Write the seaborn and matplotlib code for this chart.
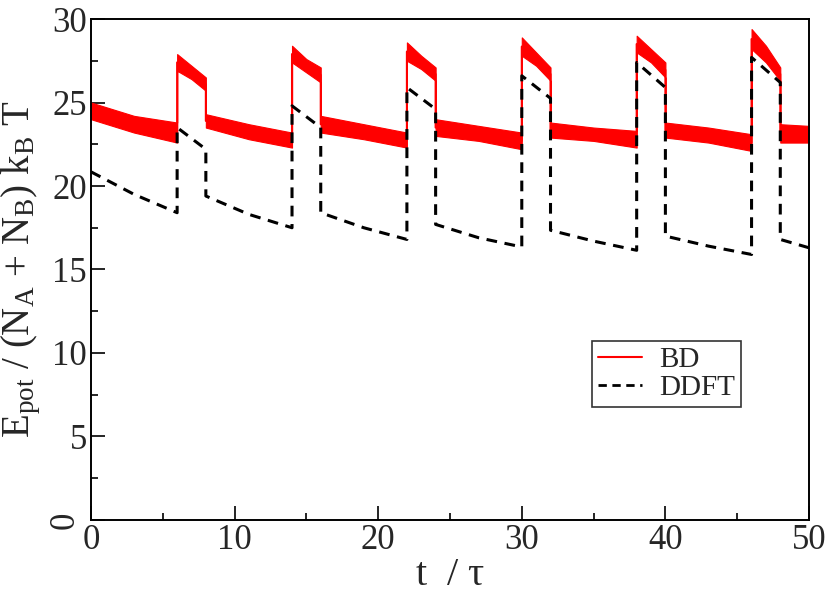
import numpy as np
import pandas as pd
import matplotlib
matplotlib.use("Agg")
import matplotlib.pyplot as plt
import matplotlib.transforms as mtransforms
import seaborn as sns
from matplotlib.lines import Line2D
from matplotlib.ticker import MultipleLocator

sns.set_style("white")
plt.rcParams['font.family'] = ['Liberation Serif', 'DejaVu Serif']
plt.rcParams['mathtext.fontset'] = 'custom'
plt.rcParams['mathtext.rm'] = 'Liberation Serif'
plt.rcParams['mathtext.it'] = 'Liberation Serif:italic'
plt.rcParams['mathtext.default'] = 'regular'

# BD (noisy band: lower / upper envelope)
bd_t = [0, 3, 6, 6, 7, 8, 8, 11, 14, 14, 15, 16, 16, 19, 22, 22, 23, 24, 24, 27,
        30, 30, 31, 32, 32, 35, 38, 38, 39, 40, 40, 43, 46, 46, 47, 48, 48, 50]
bd_lo = [24.0, 23.2, 22.6, 26.9, 26.4, 25.7, 23.5, 22.8, 22.3, 27.4, 26.8, 26.2, 23.2, 22.8,
         22.3, 27.5, 27.0, 26.3, 23.0, 22.7, 22.2, 27.8, 27.2, 26.3, 22.9, 22.7, 22.3,
         28.0, 27.4, 26.5, 22.9, 22.6, 22.1, 28.2, 27.4, 26.3, 22.6, 22.6]
bd_hi = [25.0, 24.2, 23.8, 27.9, 27.2, 26.5, 24.3, 23.7, 23.2, 28.4, 27.6, 27.1, 24.2, 23.7,
         23.2, 28.6, 27.8, 27.1, 24.0, 23.6, 23.2, 28.9, 28.0, 27.1, 23.8, 23.5, 23.3,
         29.0, 28.2, 27.4, 23.8, 23.5, 23.1, 29.4, 28.4, 27.1, 23.7, 23.6]

# DDFT
ddft_t = [0, 3, 6, 6, 8, 8, 11, 14, 14, 16, 16, 19, 22, 22, 24, 24, 27, 30, 30, 32, 32,
          35, 38, 38, 40, 40, 43, 46, 46, 48, 48, 50]
ddft_e = [20.85, 19.5, 18.4, 23.5, 22.2, 19.4, 18.3, 17.5, 24.8, 23.5, 18.4, 17.5, 16.8,
          25.9, 24.6, 17.7, 16.9, 16.35, 26.6, 25.25, 17.35, 16.7, 16.15, 27.4, 25.9, 17.0,
          16.4, 15.9, 27.7, 26.2, 16.8, 16.3]

bd = pd.DataFrame({'t': bd_t, 'lo': bd_lo, 'hi': bd_hi})
bd['mid'] = (bd['lo'] + bd['hi']) / 2
dd = pd.DataFrame({'t': ddft_t, 'e': ddft_e})

fig = plt.figure(figsize=(8.3, 5.94), dpi=100)
ax = fig.add_axes([0.1096, 0.1246, 0.8651, 0.8434])

ax.fill_between(bd['t'], bd['lo'], bd['hi'], color='#ff0000', lw=0.8, edgecolor='#ff0000')
sns.lineplot(data=bd, x='t', y='mid', estimator=None, sort=False, color='#ff0000',
             lw=1.5, ax=ax)
sns.lineplot(data=dd, x='t', y='e', estimator=None, sort=False, color='black',
             lw=2.2, ax=ax, dashes=False)
ax.lines[-1].set_dashes((3.5, 2.5))

ax.set_xlim(0, 50)
ax.set_ylim(0, 30)
ax.xaxis.set_major_locator(MultipleLocator(10))
ax.xaxis.set_minor_locator(MultipleLocator(5))
ax.yaxis.set_major_locator(MultipleLocator(5))
ax.yaxis.set_minor_locator(MultipleLocator(2.5))
ax.tick_params(which='both', direction='in', top=False, right=False, bottom=True, left=True,
               color='black', width=1.2, labelsize=25, pad=3)
ax.tick_params(which='major', length=10)
ax.tick_params(which='minor', length=5)
for s in ax.spines.values():
    s.set_color('black')
    s.set_linewidth(1.4)

ax.set_xlabel(r't  / $\tau$', fontsize=29, labelpad=0)
ax.set_ylabel(r'E$_{\rm pot}$ / (N$_{\rm A}$ + N$_{\rm B}$) k$_{\rm B}$ T', fontsize=28, labelpad=4)

handles = [Line2D([], [], color='#ff0000', lw=1.5),
           Line2D([], [], color='black', lw=2.0, dashes=(3, 2))]
leg = ax.legend(handles, ['BD', 'DDFT'], loc='upper left', bbox_to_anchor=(0.698, 0.357),
                borderaxespad=0, fontsize=21, frameon=True, fancybox=False,
                handlelength=1.5, handletextpad=0.6, borderpad=0.2, labelspacing=0.05)
leg.get_frame().set_edgecolor('black')
leg.get_frame().set_linewidth(1.2)

# the reference draws the y-axis "0" label sideways
fig.canvas.draw()
for tk in ax.yaxis.get_major_ticks():
    if abs(tk.get_loc()) < 1e-9:
        lab = tk.label1
        lab.set_rotation(90)
        lab.set_va('center')
        lab.set_ha('right')
        lab.set_transform(lab.get_transform() +
                          mtransforms.ScaledTranslation(-5 / 100, 0, fig.dpi_scale_trans))

fig.savefig('out.png', dpi=100)
